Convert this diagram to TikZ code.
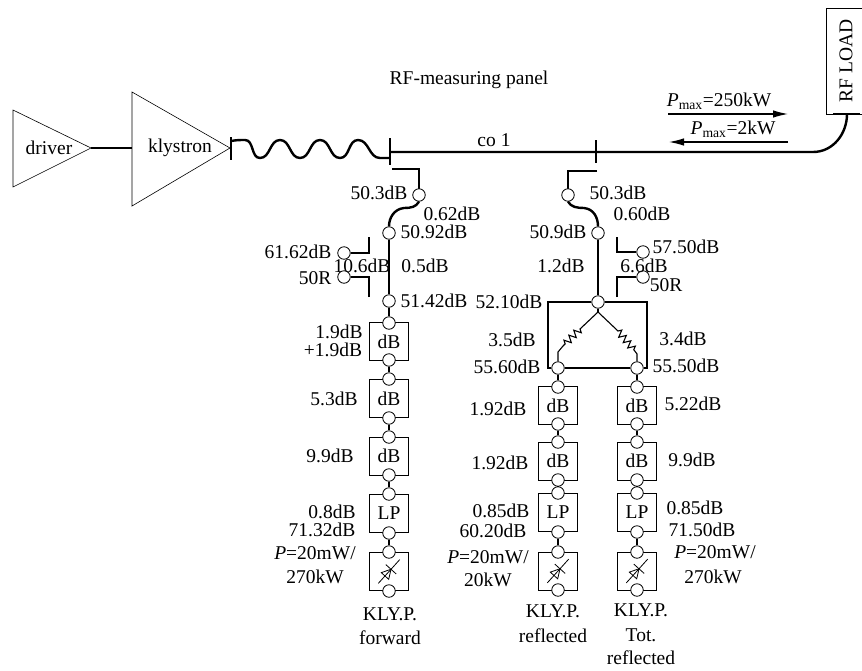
\documentclass[tikz,border=0pt]{standalone}
\usepackage{fontspec}
\setmainfont{Liberation Serif}
\usepackage{tikz}
\usetikzlibrary{arrows.meta,decorations.pathmorphing,calc}

\begin{document}
\begin{tikzpicture}[
  x=1pt, y=-1pt,
  amp/.style={draw, line width=0.6pt},
  att/.style={rectangle, draw, line width=0.8pt, minimum width=39pt, minimum height=38pt, inner sep=0pt, font=\fontsize{19.5}{22}\selectfont},
  port/.style={circle, draw, line width=0.8pt, fill=white, minimum size=12.5pt, inner sep=0pt},
  lbl/.style={inner sep=0pt, font=\fontsize{19.5}{22}\selectfont},
  guide/.style={line width=2.4pt},
  branch/.style={line width=1.1pt},
  >={Latex[length=15pt, width=7.5pt]}
]
\useasboundingbox (0,0) rectangle (862,670);

% Amplifiers
\draw[amp] (13,110) -- (13,187) -- (91,148) coordinate (Dout) -- cycle;
\draw[amp] (132,92) -- (132,206) -- (230,148) -- cycle;
\coordinate (Kin) at (132,148);
\draw[guide] (Dout) -- (Kin);
\node[lbl] (driver) at (49,148) {driver};
\node[lbl] (klystron) at (180,148) {klystron};

% Flanges
\coordinate (F2) at (390,152);
\coordinate (F3) at (596,152);
\draw[guide] (231,137) -- (231,160);
\draw[guide] (390,138) -- (390,165);
\draw[guide] (596,140) -- (596,163);

% Flexible guide
\draw[guide] (231,141) to[out=10,in=180] (245,140) to[out=0,in=180] (260,158)
  to[out=0,in=180] (280,140) to[out=0,in=180] (300,158)
  to[out=0,in=180] (320,140) to[out=0,in=180] (340,158)
  to[out=0,in=180] (358,140) to[out=0,in=180] (380,158) -- (390,158);

% RF load
\node[draw, line width=0.8pt, rotate=90, minimum width=106pt, minimum height=40pt, inner sep=0pt, font=\fontsize{19.5}{22}\selectfont] (Load) at (846,61) {RF LOAD};
\draw[guide] (833,114) -- (860,114);
\draw[guide] (F2) -- (F3) -- (813,152) to[out=0,in=-90] (847,114);

\node[lbl] (panel) at (469,80) {RF-measuring panel};
\node[lbl] (co) at (494,140) {co 1};
\node[lbl] (Pf) at (719,101) {\textit{P}\textsubscript{max}=250kW};
\node[lbl] (Pr) at (733,129) {\textit{P}\textsubscript{max}=2kW};
\coordinate (Pf1) at (668,114);
\coordinate (Pf2) at (788,114);
\coordinate (Pr1) at (788,142);
\coordinate (Pr2) at (669,142);
\draw[->, branch] (Pf1) -- (Pf2);
\draw[->, branch] (Pr1) -- (Pr2);

% Forward branch
\node[att] (A1) at (389,341.5) {dB};
\node[att] (A2) at (389,398.5) {dB};
\node[att] (A3) at (389,456) {dB};
\node[att] (A4) at (389,513.5) {LP};
\node[att] (A5) at (389,571.5) {};
\draw[guide] (392,169) -- (419,169) -- (419,195);
\node[port] (a0) at (419,195) {};
\node[port] (a1) at (389,233) {};
\node[port] (a2) at (389,301) {};
\draw[guide] (a0.south) .. controls (416,207) and (411,208) .. (404,208) .. controls (394,209) and (389,218) .. (a1.north);
\draw[guide] (a1) -- (a2);
\node[port] (a3) at (389,323) {};
\node[port] (a4) at (389,360) {};
\node[port] (a5) at (389,379) {};
\node[port] (a6) at (389,418) {};
\node[port] (a7) at (389,437) {};
\node[port] (a8) at (389,475) {};
\node[port] (a9) at (389,494) {};
\node[port] (a10) at (389,533) {};
\node[port] (a11) at (389,552) {};
\node[port] (a12) at (389,591) {};
\draw[guide] (a2) -- (a3);
\draw[guide] (a4) -- (a5);
\draw[guide] (a6) -- (a7);
\draw[guide] (a8) -- (a9);
\draw[guide] (a10) -- (a11);
% Forward coupler
\node[port] (c1) at (344,253) {};
\node[port] (c2) at (344,277) {};
\draw[guide] (369,237) -- (369,253) -- (c1);
\draw[guide] (369,297) -- (369,277) -- (c2);

% Reflected branches
\node[att] (B1) at (558,405.5) {dB};
\node[att] (B2) at (558,461) {dB};
\node[att] (B3) at (558,512.5) {LP};
\node[att] (B4) at (558,571) {};
\node[att] (C1) at (637,405.5) {dB};
\node[att] (C2) at (637,461) {dB};
\node[att] (C3) at (637,512.5) {LP};
\node[att] (C4) at (637,571) {};
\draw[guide] (597,171) -- (568,171) -- (568,195);
\node[port] (b0) at (568,195) {};
\node[port] (b1) at (598,233) {};
\node[port] (b2) at (598,302) {};
\draw[guide] (b0.south) .. controls (571,207) and (577,208) .. (584,208) .. controls (594,209) and (598,218) .. (b1.north);
\draw[guide] (b1) -- (b2);
% Reflected coupler
\node[port] (c3) at (643,252) {};
\node[port] (c4) at (643,277) {};
\draw[guide] (617,237) -- (617,252) -- (c3);
\draw[guide] (617,297) -- (617,277) -- (c4);

% Splitter
\node[port] (s1) at (558,368) {};
\node[port] (s2) at (637,368) {};
\draw[branch] (b2.west) -- (548,302) -- (548,368) -- (s1.west);
\draw[branch] (b2.east) -- (647,302) -- (647,368) -- (s2.east);
\draw[branch] (s1) -- (s2);
\coordinate (tee) at (598,312);
\draw[guide] (b2.south) -- (tee);
\draw[branch] (tee) -- (580,329) decorate[decoration={zigzag, segment length=7pt, amplitude=3.5pt}] {-- (563,346)} -- (558,352) -- (s1.north);
\draw[branch] (tee) -- (618,331) decorate[decoration={zigzag, segment length=7pt, amplitude=3.5pt}] {-- (634,350)} -- (637,354) -- (s2.north);

\foreach \col/\xc in {p/558, q/637} {
  \node[port] (\col1) at (\xc,387) {};
  \node[port] (\col2) at (\xc,424) {};
  \node[port] (\col3) at (\xc,442) {};
  \node[port] (\col4) at (\xc,480) {};
  \node[port] (\col5) at (\xc,493) {};
  \node[port] (\col6) at (\xc,532) {};
  \node[port] (\col7) at (\xc,552) {};
  \node[port] (\col8) at (\xc,590) {};
}
\draw[guide] (s1) -- (p1);
\draw[guide] (p2) -- (p3);
\draw[guide] (p4) -- (p5);
\draw[guide] (p6) -- (p7);
\draw[guide] (s2) -- (q1);
\draw[guide] (q2) -- (q3);
\draw[guide] (q4) -- (q5);
\draw[guide] (q6) -- (q7);

% Detector symbols
\foreach \dd in {A5, B4, C4} {
  \begin{scope}[shift={(\dd)}, rotate=48, line width=0.8pt]
    \draw (-16,0) -- (16,0);
    \draw (-6,-5) -- (-6,5) -- (3,0) -- cycle;
    \draw (3,-7) -- (3,7);
  \end{scope}
}

% Forward labels
\node[lbl] (t1) at (379,193) {50.3dB};
\node[lbl] (t2) at (452,214) {0.62dB};
\node[lbl] (t3) at (434,232) {50.92dB};
\node[lbl] (t4) at (298,252) {61.62dB};
\node[lbl] (t5) at (315,278) {50R};
\node[lbl] (t6) at (362,266) {10.6dB};
\node[lbl] (t7) at (425,266) {0.5dB};
\node[lbl] (t8) at (434,301) {51.42dB};
\node[lbl] (t9) at (339,332) {1.9dB};
\node[lbl] (t10) at (333,350) {+1.9dB};
\node[lbl] (t11) at (334,399) {5.3dB};
\node[lbl] (t12) at (330,456) {9.9dB};
\node[lbl] (t13) at (332,512) {0.8dB};
\node[lbl] (t14) at (322,530) {71.32dB};
\node[lbl] (t15) at (315,553) {\textit{P}=20mW/};
\node[lbl] (t16) at (315,577) {270kW};
\node[lbl] (t17) at (390,614) {KLY.P.};
\node[lbl] (t18) at (390,638) {forward};

% Reflected labels
\node[lbl] (u1) at (618,193) {50.3dB};
\node[lbl] (u2) at (642,214) {0.60dB};
\node[lbl] (u3) at (558,232) {50.9dB};
\node[lbl] (u4) at (686,247) {57.50dB};
\node[lbl] (u5) at (644,266) {6.6dB};
\node[lbl] (u6) at (666,285) {50R};
\node[lbl] (u7) at (561,266) {1.2dB};
\node[lbl] (u8) at (509,302) {52.10dB};
\node[lbl] (u9) at (512,340) {3.5dB};
\node[lbl] (u10) at (683,339) {3.4dB};
\node[lbl] (u11) at (507,367) {55.60dB};
\node[lbl] (u12) at (686,366) {55.50dB};
\node[lbl] (u13) at (498,409) {1.92dB};
\node[lbl] (u14) at (500,463) {1.92dB};
\node[lbl] (u15) at (501,511) {0.85dB};
\node[lbl] (u16) at (493,531) {60.20dB};
\node[lbl] (u17) at (488,557) {\textit{P}=20mW/};
\node[lbl] (u18) at (488,580) {20kW};
\node[lbl] (u19) at (553,611) {KLY.P.};
\node[lbl] (u20) at (553,636) {reflected};
\node[lbl] (u21) at (693,404) {5.22dB};
\node[lbl] (u22) at (692,460) {9.9dB};
\node[lbl] (u23) at (695,508) {0.85dB};
\node[lbl] (u24) at (702,530) {71.50dB};
\node[lbl] (u25) at (715,552) {\textit{P}=20mW/};
\node[lbl] (u26) at (713,577) {270kW};
\node[lbl] (u27) at (641,610) {KLY.P.};
\node[lbl] (u28) at (641,635) {Tot.};
\node[lbl] (u29) at (641,658) {reflected};

\end{tikzpicture}
\end{document}
